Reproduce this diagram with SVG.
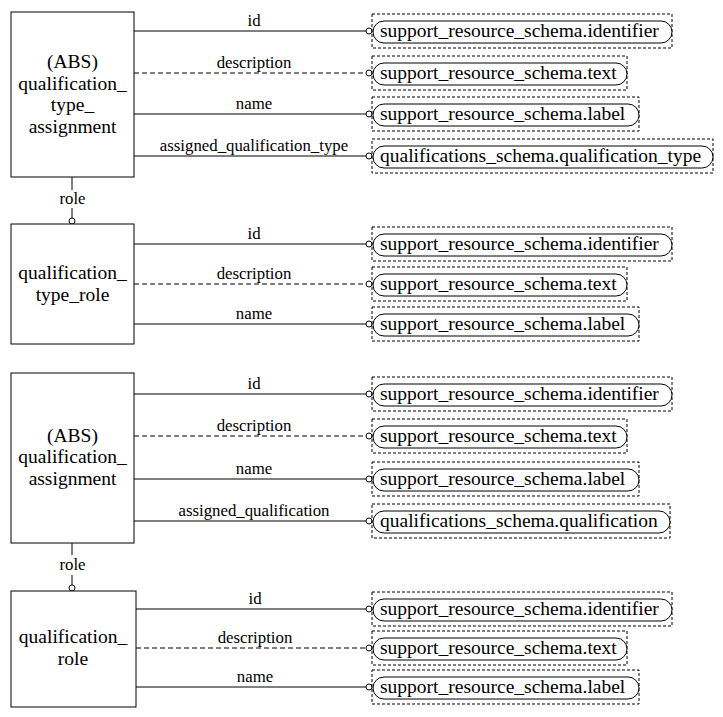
<svg xmlns="http://www.w3.org/2000/svg" width="723" height="717" viewBox="0 0 723 717">
<style>
text{font-family:"Liberation Serif","Times New Roman",Times,Tinos,"Nimbus Roman","Nimbus Roman No9 L","DejaVu Serif","Noto Serif",FreeSerif,"Noto Serif CJK SC",serif}
.ent{fill:#fff;stroke:#000;stroke-width:1}
.et{font-size:19.5px;fill:#000;text-anchor:middle}
.lb{font-size:16.8px;fill:#000;text-anchor:middle}
.pt{font-size:19.5px;fill:#000}
.ln{stroke:#000;stroke-width:1;fill:none}
.dl{stroke:#000;stroke-width:1;fill:none;stroke-dasharray:5,3}
.db{fill:none;stroke:#000;stroke-width:1;stroke-dasharray:3,2}
.pill{fill:#fff;stroke:#000;stroke-width:1}
.oc{fill:#fff;stroke:#000;stroke-width:1}
</style>
<rect width="723" height="717" fill="#fff"/>

<g id="connectors">
  <line class="ln" x1="134" y1="31" x2="366" y2="31"/><circle class="oc" cx="369" cy="31" r="3"/>
  <text class="lb" x="254" y="25.5">id</text>
  <line class="dl" x1="134" y1="73" x2="366" y2="73"/><circle class="oc" cx="369" cy="73" r="3"/>
  <text class="lb" x="254" y="67.5">description</text>
  <line class="ln" x1="134" y1="114" x2="366" y2="114"/><circle class="oc" cx="369" cy="114" r="3"/>
  <text class="lb" x="254" y="108.5">name</text>
  <line class="ln" x1="134" y1="156" x2="366" y2="156"/><circle class="oc" cx="369" cy="156" r="3"/>
  <text class="lb" x="254" y="150.5">assigned_qualification_type</text>
  <line class="ln" x1="72" y1="177" x2="72" y2="190"/>
  <text class="lb" x="72.5" y="204">role</text>
  <line class="ln" x1="72" y1="208" x2="72" y2="218"/><circle class="oc" cx="72" cy="221" r="3"/>
  <line class="ln" x1="134" y1="244" x2="366" y2="244"/><circle class="oc" cx="369" cy="244" r="3"/>
  <text class="lb" x="254" y="238.5">id</text>
  <line class="dl" x1="134" y1="284" x2="366" y2="284"/><circle class="oc" cx="369" cy="284" r="3"/>
  <text class="lb" x="254" y="278.5">description</text>
  <line class="ln" x1="134" y1="324" x2="366" y2="324"/><circle class="oc" cx="369" cy="324" r="3"/>
  <text class="lb" x="254" y="318.5">name</text>
  <line class="ln" x1="134" y1="394" x2="366" y2="394"/><circle class="oc" cx="369" cy="394" r="3"/>
  <text class="lb" x="254" y="388.5">id</text>
  <line class="dl" x1="134" y1="436" x2="366" y2="436"/><circle class="oc" cx="369" cy="436" r="3"/>
  <text class="lb" x="254" y="430.5">description</text>
  <line class="ln" x1="134" y1="479" x2="366" y2="479"/><circle class="oc" cx="369" cy="479" r="3"/>
  <text class="lb" x="254" y="473.5">name</text>
  <line class="ln" x1="134" y1="521" x2="366" y2="521"/><circle class="oc" cx="369" cy="521" r="3"/>
  <text class="lb" x="254" y="515.5">assigned_qualification</text>
  <line class="ln" x1="72" y1="543" x2="72" y2="555"/>
  <text class="lb" x="72.5" y="570">role</text>
  <line class="ln" x1="72" y1="575" x2="72" y2="585"/><circle class="oc" cx="72" cy="588" r="3"/>
  <line class="ln" x1="136" y1="609" x2="366" y2="609"/><circle class="oc" cx="369" cy="609" r="3"/>
  <text class="lb" x="255" y="603.5">id</text>
  <line class="dl" x1="136" y1="648" x2="366" y2="648"/><circle class="oc" cx="369" cy="648" r="3"/>
  <text class="lb" x="255" y="642.5">description</text>
  <line class="ln" x1="136" y1="687" x2="366" y2="687"/><circle class="oc" cx="369" cy="687" r="3"/>
  <text class="lb" x="255" y="681.5">name</text>
</g>

<g id="qualification_type_assignment">
  <rect class="ent" x="11" y="12" width="123" height="165"/>
  <text class="et" x="72.5" y="68">(ABS)</text>
  <text class="et" x="72.5" y="89.5">qualification_</text>
  <text class="et" x="72.5" y="111">type_</text>
  <text class="et" x="72.5" y="132.5">assignment</text>
</g>
<g id="qualification_type_role">
  <rect class="ent" x="11" y="224" width="123" height="120"/>
  <text class="et" x="72.5" y="279">qualification_</text>
  <text class="et" x="72.5" y="300.5">type_role</text>
</g>
<g id="qualification_assignment">
  <rect class="ent" x="11" y="373" width="123" height="170"/>
  <text class="et" x="72.5" y="441.5">(ABS)</text>
  <text class="et" x="72.5" y="463">qualification_</text>
  <text class="et" x="72.5" y="484.5">assignment</text>
</g>
<g id="qualification_role">
  <rect class="ent" x="11" y="591" width="125" height="116"/>
  <text class="et" x="73" y="643">qualification_</text>
  <text class="et" x="73" y="664.5">role</text>
</g>

<g id="ref_b1_identifier"><rect class="db" x="372" y="14" width="300" height="34"/><rect class="pill" x="373" y="21" width="299" height="22" rx="11"/><text class="pt" x="380" y="37">support_resource_schema.identifier</text></g>
<g id="ref_b1_text"><rect class="db" x="372" y="56" width="255" height="34"/><rect class="pill" x="373" y="63" width="254" height="22" rx="11"/><text class="pt" x="380" y="79">support_resource_schema.text</text></g>
<g id="ref_b1_label"><rect class="db" x="372" y="97" width="267" height="34"/><rect class="pill" x="373" y="104" width="266" height="22" rx="11"/><text class="pt" x="380" y="120">support_resource_schema.label</text></g>
<g id="ref_b1_qtype"><rect class="db" x="372" y="139" width="341" height="34"/><rect class="pill" x="373" y="146" width="340" height="22" rx="11"/><text class="pt" x="380" y="162">qualifications_schema.qualification_type</text></g>

<g id="ref_b2_identifier"><rect class="db" x="372" y="227" width="300" height="34"/><rect class="pill" x="373" y="234" width="299" height="22" rx="11"/><text class="pt" x="380" y="250">support_resource_schema.identifier</text></g>
<g id="ref_b2_text"><rect class="db" x="372" y="267" width="255" height="34"/><rect class="pill" x="373" y="274" width="254" height="22" rx="11"/><text class="pt" x="380" y="290">support_resource_schema.text</text></g>
<g id="ref_b2_label"><rect class="db" x="372" y="307" width="267" height="34"/><rect class="pill" x="373" y="314" width="266" height="22" rx="11"/><text class="pt" x="380" y="330">support_resource_schema.label</text></g>

<g id="ref_b3_identifier"><rect class="db" x="372" y="377" width="300" height="34"/><rect class="pill" x="373" y="384" width="299" height="22" rx="11"/><text class="pt" x="380" y="400">support_resource_schema.identifier</text></g>
<g id="ref_b3_text"><rect class="db" x="372" y="419" width="255" height="34"/><rect class="pill" x="373" y="426" width="254" height="22" rx="11"/><text class="pt" x="380" y="442">support_resource_schema.text</text></g>
<g id="ref_b3_label"><rect class="db" x="372" y="462" width="267" height="34"/><rect class="pill" x="373" y="469" width="266" height="22" rx="11"/><text class="pt" x="380" y="485">support_resource_schema.label</text></g>
<g id="ref_b3_qual"><rect class="db" x="372" y="504" width="298" height="34"/><rect class="pill" x="373" y="511" width="297" height="22" rx="11"/><text class="pt" x="380" y="527">qualifications_schema.qualification</text></g>

<g id="ref_b4_identifier"><rect class="db" x="372" y="592" width="300" height="34"/><rect class="pill" x="373" y="599" width="299" height="22" rx="11"/><text class="pt" x="380" y="615">support_resource_schema.identifier</text></g>
<g id="ref_b4_text"><rect class="db" x="372" y="631" width="255" height="34"/><rect class="pill" x="373" y="638" width="254" height="22" rx="11"/><text class="pt" x="380" y="654">support_resource_schema.text</text></g>
<g id="ref_b4_label"><rect class="db" x="372" y="670" width="267" height="34"/><rect class="pill" x="373" y="677" width="266" height="22" rx="11"/><text class="pt" x="380" y="693">support_resource_schema.label</text></g>
</svg>
